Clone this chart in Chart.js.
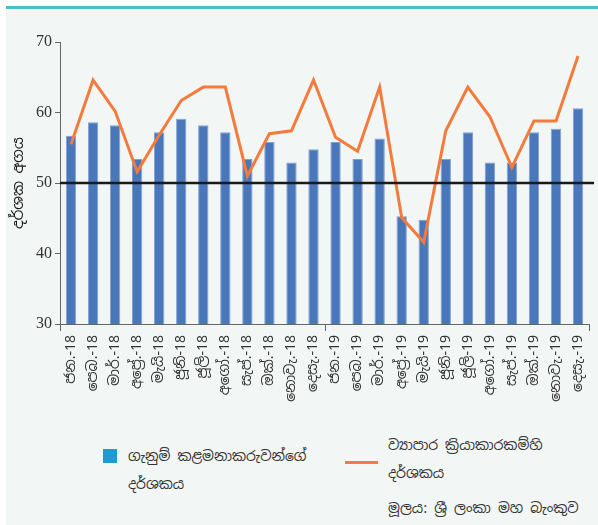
<!DOCTYPE html>
<html>
<head>
<meta charset="utf-8">
<script src="https://cdn.jsdelivr.net/npm/chart.js@4.4.0/dist/chart.umd.min.js"></script>
<style>
    body { margin: 0; background: #fff; }
    .panel {
        position: absolute; left: 6px; top: 6px; width: 592px; height: 519px;
        background: #f2f6f5; border-top: 3px solid #4dbdcc; box-sizing: border-box;
    }
    .canvas { position: absolute; left: 0; top: 0; width: 598px; height: 420px; }
    .legend-text {
        position: absolute; font-family: "Noto Sans Sinhala", "Noto Sans", sans-serif;
        font-size: 14px; color: #333; line-height: 28px;
    }
    .swatch { position: absolute; left: 103px; top: 449px; width: 14px; height: 14px; background: #1e9bd0; }
    .dash { position: absolute; left: 345px; top: 461px; width: 33px; height: 3px; background: #f47b3b; }
</style>
</head>
<body>
<div class="panel"></div>
<div class="canvas"><canvas id="myChart" width="598" height="420"></canvas></div>
<div class="swatch"></div>
<div class="legend-text" style="left:128px; top:442px;">ගැනුම් කළමනාකරුවන්ගේ<br>දර්ශකය</div>
<div class="dash"></div>
<div class="legend-text" style="left:388px; top:431px;">ව්‍යාපාර ක්‍රියාකාරකම්හි<br>දර්ශකය</div>
<div class="legend-text" style="left:388px; top:494px;">මූලය: ශ්‍රී ලංකා මහ බැංකුව</div>
<script>
(function () {

    const months = ['ජන.', 'පෙබ.', 'මාර්.', 'අප්‍රේ.', 'මැයි', 'ජූනි', 'ජූලි', 'අගෝ.', 'සැප්.', 'ඔක්.', 'නොවැ.', 'දෙසැ.'];
    const years = ['18', '19'];
    const labels = [];
    years.forEach(y => months.forEach(m => labels.push(m + '-' + y)));

    // purchasing managers' index (bars)
    const pmiValues = [56.7, 58.6, 58.2, 53.4, 57.2, 59.1, 58.2, 57.2, 53.4, 55.8, 52.9, 54.8,
        55.8, 53.4, 56.3, 45.3, 44.8, 53.4, 57.2, 52.9, 52.9, 57.2, 57.7, 60.6];
    // business activity index (line)
    const activityValues = [55.5, 64.6, 60.2, 51.6, 56.8, 61.7, 63.6, 63.6, 51.0, 57.0, 57.4, 64.6,
        56.5, 54.5, 63.6, 45.1, 41.6, 57.4, 63.6, 59.4, 52.2, 58.8, 58.8, 68.0];
    const yTicks = [30, 40, 50, 60, 70];
    const refLine = 50;

    // black reference line at 50 + year division ticks on the x axis
    const extras = {
        id: 'extras',
        afterDatasetsDraw(chart) {
            const ctx = chart.ctx;
            const area = chart.chartArea;
            const y = chart.scales.y.getPixelForValue(refLine);
            ctx.save();
            ctx.strokeStyle = '#1a1a1a';
            ctx.lineWidth = 2.5;
            ctx.beginPath();
            ctx.moveTo(area.left, y);
            ctx.lineTo(area.right + 5, y);
            ctx.stroke();

            const step = (area.right - area.left) / labels.length;
            ctx.strokeStyle = '#666';
            ctx.lineWidth = 1;
            [0, 12, 24].forEach(i => {
                const px = Math.round(area.left + i * step) + 0.5;
                ctx.beginPath();
                ctx.moveTo(px, area.bottom);
                ctx.lineTo(px, area.bottom + 7);
                ctx.stroke();
            });
            ctx.restore();
        }
    };

    const ctx = document.getElementById('myChart').getContext('2d');
    new Chart(ctx, {
        data: {
            labels: labels,
            datasets: [{
                type: 'line',
                data: activityValues,
                borderColor: '#f47b3b',
                borderWidth: 3,
                pointRadius: 0,
                tension: 0,
                order: 0
            }, {
                type: 'bar',
                data: pmiValues,
                backgroundColor: '#4a76ba',
                borderColor: '#7ea2d6',
                borderWidth: 1,
                barPercentage: 0.47,
                categoryPercentage: 1,
                order: 1
            }]
        },
        options: {
            responsive: false,
            animation: false,
            layout: { padding: { left: 6, top: 42, right: 8, bottom: 0 } },
            plugins: { legend: { display: false }, tooltip: { enabled: false } },
            scales: {
                x: {
                    grid: { display: false },
                    border: { color: '#666' },
                    ticks: {
                        color: '#333',
                        minRotation: 90,
                        maxRotation: 90,
                        padding: 3,
                        font: { family: '"Noto Sans Sinhala", "Noto Sans", sans-serif', size: 14 }
                    },
                    afterFit: scale => { scale.height = 96; }
                },
                y: {
                    min: 30,
                    max: 70,
                    afterBuildTicks: scale => { scale.ticks = yTicks.map(v => ({ value: v })); },
                    grid: { drawOnChartArea: false, tickLength: 5, color: '#666' },
                    border: { color: '#666' },
                    ticks: {
                        color: '#333',
                        padding: 3,
                        font: { family: '"Liberation Serif", serif', size: 16 }
                    },
                    title: {
                        display: true,
                        text: 'දර්ශක අගය',
                        color: '#1a1a1a',
                        padding: { top: 4, bottom: 0 },
                        font: { family: '"Noto Sans Sinhala", "Noto Sans", sans-serif', size: 15 }
                    },
                    afterFit: scale => { scale.width = 54; }
                }
            }
        },
        plugins: [extras]
    });

})();
</script>
</body>
</html>
